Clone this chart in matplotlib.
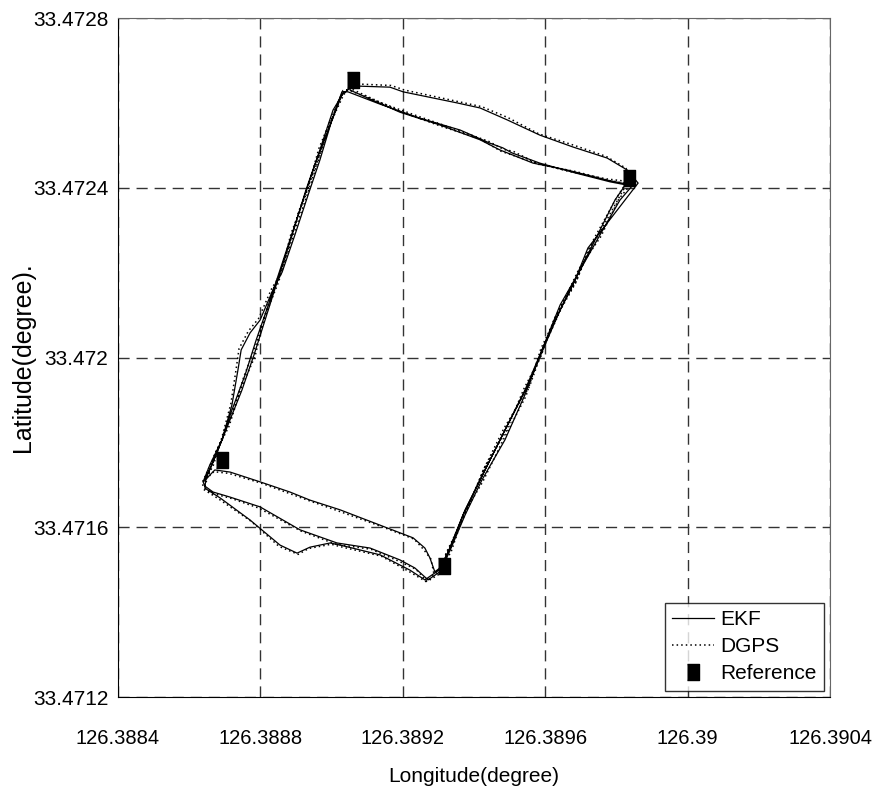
import matplotlib
matplotlib.use("Agg")
import matplotlib.pyplot as plt
from matplotlib.ticker import FixedLocator, FixedFormatter

plt.rcParams["font.family"] = ["Liberation Sans", "DejaVu Sans"]

# EKF track, three clockwise laps starting at the north-west corner
ekf_lon = [
    # lap 1
    126.389057, 126.389164, 126.389201, 126.389352, 126.389417, 126.389493, 126.389585, 126.389678, 126.389774, 126.389830, 126.389861,
    126.389720, 126.389684, 126.389642, 126.389599, 126.389552, 126.389487, 126.389431, 126.389375, 126.389333, 126.389304, 126.389290,
    126.389276, 126.389262, 126.389229, 126.389136, 126.389024, 126.388939, 126.388883, 126.388799, 126.388715, 126.388672,
    126.388644, 126.388664, 126.388692, 126.388720, 126.388757, 126.388788, 126.388827, 126.388869, 126.388911, 126.388953, 126.388996, 126.389029, 126.389052,
    # lap 2
    126.389052, 126.389192, 126.389304, 126.389417, 126.389473, 126.389566, 126.389661, 126.389774, 126.389827,
    126.389796, 126.389740, 126.389684, 126.389628, 126.389585, 126.389543, 126.389487, 126.389431, 126.389369, 126.389324, 126.389304, 126.389271,
    126.389234, 126.389192, 126.389108, 126.389015, 126.388911, 126.388799, 126.388715, 126.388667, 126.388644,
    126.388639, 126.388658, 126.388692, 126.388720, 126.388737, 126.388746, 126.388771, 126.388799, 126.388835, 126.388861, 126.388897, 126.388934, 126.388967, 126.389001, 126.389029,
    # lap 3
    126.389046, 126.389136, 126.389248, 126.389361, 126.389445, 126.389481, 126.389507, 126.389585, 126.389684, 126.389782, 126.389844,
    126.389810, 126.389754, 126.389698, 126.389642, 126.389591, 126.389543, 126.389487, 126.389422, 126.389375, 126.389333, 126.389310, 126.389262,
    126.389220, 126.389136, 126.389024, 126.388996, 126.388939, 126.388903, 126.388855, 126.388771, 126.388687, 126.388644,
    126.388647, 126.388675, 126.388709, 126.388748, 126.388782, 126.388813, 126.388849, 126.388889, 126.388928, 126.388967, 126.389004, 126.389035,
]
ekf_lat = [
    # lap 1
    33.472640, 33.472637, 33.472626, 33.472600, 33.472588, 33.472560, 33.472524, 33.472496, 33.472470, 33.472442, 33.472411,
    33.472258, 33.472183, 33.472112, 33.472029, 33.471935, 33.471829, 33.471735, 33.471641, 33.471551, 33.471504, 33.471495,
    33.471528, 33.471551, 33.471575, 33.471605, 33.471641, 33.471664, 33.471683, 33.471707, 33.471730, 33.471735,
    33.471711, 33.471747, 33.471806, 33.471876, 33.471959, 33.472041, 33.472135, 33.472242, 33.472348, 33.472454, 33.472548, 33.472619, 33.472635,
    # lap 2
    33.472630, 33.472578, 33.472548, 33.472513, 33.472489, 33.472458, 33.472442, 33.472418, 33.472409,
    33.472371, 33.472277, 33.472183, 33.472088, 33.472006, 33.471923, 33.471829, 33.471735, 33.471629, 33.471535, 33.471495, 33.471476,
    33.471504, 33.471523, 33.471551, 33.471563, 33.471594, 33.471648, 33.471671, 33.471683, 33.471697,
    33.471707, 33.471747, 33.471806, 33.471888, 33.471971, 33.472018, 33.472058, 33.472088, 33.472159, 33.472201, 33.472289, 33.472383, 33.472465, 33.472560, 33.472626,
    # lap 3
    33.472626, 33.472597, 33.472564, 33.472536, 33.472505, 33.472494, 33.472482, 33.472458, 33.472435, 33.472414, 33.472404,
    33.472371, 33.472289, 33.472206, 33.472124, 33.472018, 33.471912, 33.471806, 33.471711, 33.471629, 33.471546, 33.471504, 33.471476,
    33.471499, 33.471535, 33.471558, 33.471563, 33.471553, 33.471539, 33.471558, 33.471617, 33.471669, 33.471692,
    33.471716, 33.471770, 33.471841, 33.471923, 33.472006, 33.472088, 33.472183, 33.472289, 33.472395, 33.472489, 33.472583, 33.472626,
]

# DGPS track, same laps
dgps_lon = [
    # lap 1
    126.389060, 126.389167, 126.389206, 126.389350, 126.389422, 126.389496, 126.389582, 126.389681, 126.389771, 126.389827, 126.389838,
    126.389816, 126.389782, 126.389748, 126.389720, 126.389687, 126.389645, 126.389596, 126.389556, 126.389484, 126.389428, 126.389378, 126.389330, 126.389301, 126.389287,
    126.389279, 126.389258, 126.389232, 126.389139, 126.389020, 126.388942, 126.388880, 126.388802, 126.388711, 126.388669,
    126.388641, 126.388667, 126.388689, 126.388723, 126.388754, 126.388791, 126.388824, 126.388872, 126.388908, 126.388956, 126.388993, 126.389032, 126.389049,
    # lap 2
    126.389055, 126.389189, 126.389307, 126.389414, 126.389476, 126.389563, 126.389664, 126.389771, 126.389830,
    126.389799, 126.389737, 126.389687, 126.389625, 126.389588, 126.389540, 126.389490, 126.389428, 126.389372, 126.389321, 126.389307, 126.389268,
    126.389237, 126.389189, 126.389111, 126.389012, 126.388914, 126.388796, 126.388718, 126.388664, 126.388641,
    126.388636, 126.388661, 126.388689, 126.388717, 126.388731, 126.388740, 126.388766, 126.388795, 126.388832, 126.388858, 126.388894, 126.388930, 126.388964, 126.388998, 126.389032,
    # lap 3
    126.389049, 126.389139, 126.389245, 126.389364, 126.389442, 126.389484, 126.389510, 126.389582, 126.389687, 126.389779, 126.389841,
    126.389807, 126.389757, 126.389695, 126.389645, 126.389588, 126.389546, 126.389484, 126.389425, 126.389372, 126.389336, 126.389307, 126.389265,
    126.389217, 126.389139, 126.389021, 126.388999, 126.388936, 126.388906, 126.388852, 126.388774, 126.388684, 126.388641,
    126.388650, 126.388672, 126.388712, 126.388745, 126.388785, 126.388810, 126.388852, 126.388886, 126.388931, 126.388964, 126.389007, 126.389032,
]
dgps_lat = [
    # lap 1
    33.472645, 33.472641, 33.472630, 33.472604, 33.472591, 33.472565, 33.472527, 33.472500, 33.472474, 33.472446, 33.472423,
    33.472390, 33.472338, 33.472286, 33.472253, 33.472178, 33.472115, 33.472025, 33.471932, 33.471833, 33.471738, 33.471637, 33.471548, 33.471500, 33.471492,
    33.471525, 33.471548, 33.471572, 33.471602, 33.471638, 33.471661, 33.471680, 33.471704, 33.471727, 33.471731,
    33.471708, 33.471744, 33.471803, 33.471873, 33.471956, 33.472038, 33.472132, 33.472239, 33.472345, 33.472451, 33.472545, 33.472616, 33.472638,
    # lap 2
    33.472633, 33.472581, 33.472545, 33.472516, 33.472486, 33.472461, 33.472439, 33.472421, 33.472415,
    33.472374, 33.472280, 33.472180, 33.472091, 33.472003, 33.471926, 33.471826, 33.471738, 33.471626, 33.471538, 33.471492, 33.471472,
    33.471501, 33.471520, 33.471548, 33.471560, 33.471591, 33.471645, 33.471668, 33.471680, 33.471694,
    33.471704, 33.471750, 33.471803, 33.471891, 33.471968, 33.472021, 33.472062, 33.472092, 33.472163, 33.472198, 33.472292, 33.472380, 33.472468, 33.472557, 33.472629,
    # lap 3
    33.472630, 33.472600, 33.472568, 33.472533, 33.472509, 33.472490, 33.472486, 33.472455, 33.472438, 33.472417, 33.472408,
    33.472374, 33.472286, 33.472209, 33.472121, 33.472021, 33.471909, 33.471809, 33.471708, 33.471632, 33.471543, 33.471501, 33.471472,
    33.471496, 33.471532, 33.471555, 33.471560, 33.471550, 33.471536, 33.471555, 33.471614, 33.471666, 33.471689,
    33.471713, 33.471773, 33.471838, 33.471926, 33.472003, 33.472091, 33.472180, 33.472292, 33.472392, 33.472492, 33.472580, 33.472629,
]

# surveyed reference corners
ref_lon = [126.389060, 126.389835, 126.389316, 126.388692]
ref_lat = [33.472654, 33.472423, 33.471509, 33.471758]

x_ticks = [126.3884, 126.3888, 126.3892, 126.3896, 126.3900, 126.3904]
x_labels = ["126.3884", "126.3888", "126.3892", "126.3896", "126.39", "126.3904"]
y_ticks = [33.4712, 33.4716, 33.4720, 33.4724, 33.4728]
y_labels = ["33.4712", "33.4716", "33.472", "33.4724", "33.4728"]

fig = plt.figure(figsize=(8.77, 7.92), dpi=100)
ax = fig.add_axes([118 / 877, 1 - 697 / 792, 712 / 877, 679 / 792])

ax.plot(ekf_lon, ekf_lat, color="black", lw=0.9, label="EKF")
ax.plot(dgps_lon, dgps_lat, color="black", lw=1.1, ls=(0, (1, 2)), label="DGPS")
rect = [(-0.33, -0.5), (0.33, -0.5), (0.33, 0.5), (-0.33, 0.5)]
ax.plot(ref_lon, ref_lat, ls="none", marker=rect, color="black", ms=12, label="Reference")

ax.set_xlim(x_ticks[0], x_ticks[-1])
ax.set_ylim(y_ticks[0], y_ticks[-1])
ax.xaxis.set_major_locator(FixedLocator(x_ticks))
ax.xaxis.set_major_formatter(FixedFormatter(x_labels))
ax.yaxis.set_major_locator(FixedLocator(y_ticks))
ax.yaxis.set_major_formatter(FixedFormatter(y_labels))
ax.tick_params(axis="y", length=0, labelsize=15, pad=7)
ax.tick_params(axis="x", length=0, labelsize=14.5, pad=23)

ax.grid(True, color="#333333", ls=(0, (8, 5)), lw=1.0)
for side in ["top", "right"]:
    ax.spines[side].set_color("#666666")
for side in ["left", "bottom"]:
    ax.spines[side].set_color("black")

ax.set_xlabel("Longitude(degree)", fontsize=15, labelpad=14)
ax.set_ylabel("Latitude(degree).", fontsize=18)
ax.yaxis.set_label_coords(-0.117, 0.5)

leg = ax.legend(loc="lower right", fontsize=15, frameon=True, fancybox=False,
                edgecolor="black", handlelength=2.0, handletextpad=0.3,
                borderpad=0.35, labelspacing=0.4, borderaxespad=0.3)
leg.get_frame().set_linewidth(1.0)

fig.savefig("out.png", dpi=100)
